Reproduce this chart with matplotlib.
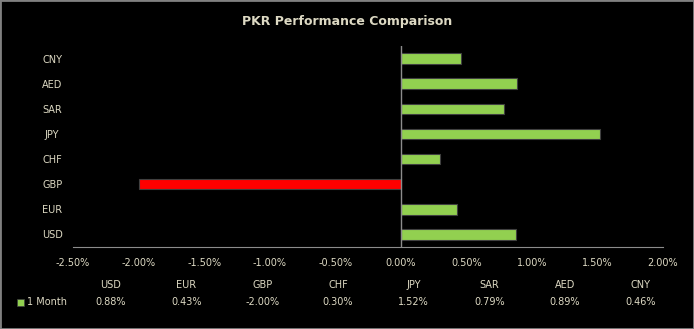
import numpy as np
import matplotlib
matplotlib.use("Agg")
import matplotlib.pyplot as plt
from matplotlib.patches import Rectangle
from matplotlib.ticker import FuncFormatter

currencies = ["USD", "EUR", "GBP", "CHF", "JPY", "SAR", "AED", "CNY"]
one_month = [0.88, 0.43, -2.00, 0.30, 1.52, 0.79, 0.89, 0.46]
series_name = "1 Month"
x_ticks = [-2.5, -2.0, -1.5, -1.0, -0.5, 0.0, 0.5, 1.0, 1.5, 2.0]

txt = "#DDD9C3"
green = "#92D050"
red = "#FF0000"
plt.rcParams['font.family'] = ['Liberation Sans Narrow', 'DejaVu Sans']

fig = plt.figure(figsize=(6.94, 3.29), dpi=100, facecolor="black")
fig.patches.append(Rectangle((0, 0), 1, 1, transform=fig.transFigure,
                             fill=False, edgecolor="#808080", linewidth=2))
ax = fig.add_axes([73 / 694, 1 - 247 / 329, 590 / 694, 201 / 329])
ax.set_facecolor("black")

y = np.arange(len(currencies))
colors = [green if v >= 0 else red for v in one_month]
ax.barh(y, one_month, height=0.42, color=colors, edgecolor="#404040", linewidth=0.8, zorder=2)

ax.set_xlim(-2.5, 2.0)
ax.set_ylim(-0.5, len(currencies) - 0.5)
ax.set_xticks(x_ticks)
ax.xaxis.set_major_formatter(FuncFormatter(lambda v, p: f"{v:.2f}%"))
ax.set_yticks(y)
ax.set_yticklabels(currencies)
ax.tick_params(axis="x", colors=txt, labelsize=7, length=0, pad=8)
ax.tick_params(axis="y", colors=txt, labelsize=7, length=0, pad=15)
for lbl in ax.get_yticklabels():
    lbl.set_horizontalalignment("center")

for s in ["top", "right", "left"]:
    ax.spines[s].set_visible(False)
ax.spines["bottom"].set_color("#8C8C8C")
ax.axvline(0, color="#8C8C8C", linewidth=1, zorder=3)

fig.text(0.5, 1 - 21 / 329, "PKR Performance Comparison", color=txt, fontsize=9,
         fontweight="bold", ha="center", va="center")

# data table below the axis
col_w = 75.7
x0 = 73
for i, (c, v) in enumerate(zip(currencies, one_month)):
    cx = (x0 + col_w * (i + 0.5)) / 694
    fig.text(cx, 1 - 285 / 329, c, color=txt, fontsize=7, ha="center", va="center")
    fig.text(cx, 1 - 302 / 329, f"{v:.2f}%", color=txt, fontsize=7, ha="center", va="center")
fig.patches.append(Rectangle((17 / 694, 1 - 306 / 329), 7 / 694, 7 / 329,
                             transform=fig.transFigure, facecolor=green, edgecolor="#404040", linewidth=0.5))
fig.text(27 / 694, 1 - 302 / 329, series_name, color=txt, fontsize=7, ha="left", va="center")

fig.savefig("out.png", dpi=100, facecolor="black")
